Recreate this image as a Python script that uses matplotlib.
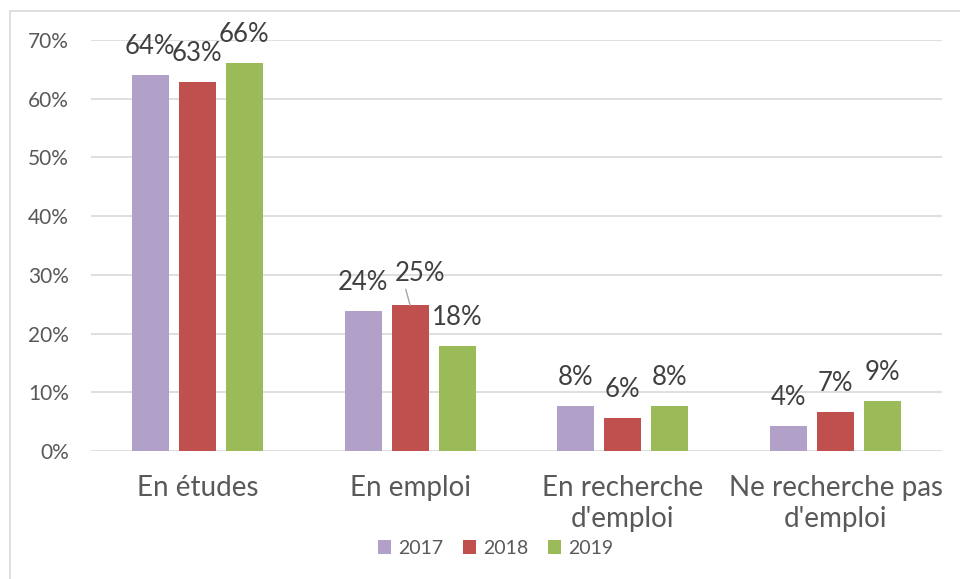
import matplotlib.pyplot as plt
import matplotlib.patches as mpatches
import numpy as np

plt.rcParams['font.family'] = ['Lato', 'DejaVu Sans']

# Categories and values (share of respondents)
categories = ["En études", "En emploi", "En recherche\nd'emploi", "Ne recherche pas\nd'emploi"]
years = ["2017", "2018", "2019"]
vals_2017 = [0.640, 0.239, 0.076, 0.043]
vals_2018 = [0.628, 0.248, 0.057, 0.067]
vals_2019 = [0.660, 0.178, 0.076, 0.085]
labels_2017 = ["64%", "24%", "8%", "4%"]
labels_2018 = ["63%", "25%", "6%", "7%"]
labels_2019 = ["66%", "18%", "8%", "9%"]
colors = ["#b1a0c7", "#c0504d", "#9bbb59"]

fig = plt.figure(figsize=(9.6, 5.79), dpi=100)
ax = fig.add_axes([91/960, 1 - 451/579, (942 - 91)/960, (451 - 40)/579])

# outer chart border
fig.patches.append(mpatches.Rectangle((10/960, -0.05), 1.0, 1 - 11/579 + 0.05,
                                      transform=fig.transFigure, fill=False,
                                      edgecolor="#d9d9d9", linewidth=1.2))

x = np.arange(len(categories))
step = 47 / 212.75
width = 37 / 212.75

series = [vals_2017, vals_2018, vals_2019]
texts = [labels_2017, labels_2018, labels_2019]
for k, (vals, labs) in enumerate(zip(series, texts)):
    xs = x + (k - 1) * step
    ax.bar(xs, vals, width, color=colors[k], label=years[k], zorder=3)
    for i, (xi, v, lab) in enumerate(zip(xs, vals, labs)):
        if k == 1 and i == 1:
            # label moved aside with a leader line
            ax.annotate(lab, xy=(xi, v), xytext=(10, 24), textcoords='offset pixels',
                        ha='center', va='baseline', fontsize=18.5, color="#404040",
                        arrowprops=dict(arrowstyle='-', color="#a6a6a6", lw=1,
                                        shrinkA=0, shrinkB=0,
                                        relpos=(0.2, 0.0)))
        else:
            ax.annotate(lab, xy=(xi, v), xytext=(0, 21), textcoords='offset pixels',
                        ha='center', va='baseline', fontsize=18.5, color="#404040")

ax.set_xlim(-0.5, 3.5)
ax.set_ylim(0, 0.7)
ax.set_yticks(np.arange(0, 0.71, 0.1))
ax.set_yticklabels([f"{int(round(t*100))}%" for t in np.arange(0, 0.71, 0.1)])
ax.set_xticks(x)
ax.set_xticklabels(categories, fontsize=20, color="#595959", linespacing=1.25)
ax.tick_params(axis='y', labelsize=15, labelcolor="#595959", length=0, pad=16)
ax.tick_params(axis='x', length=0, pad=17)
ax.yaxis.grid(True, color="#d9d9d9", linewidth=1.2, zorder=0)
for s in ["top", "right", "left", "bottom"]:
    ax.spines[s].set_visible(False)

fig.legend(loc='center', bbox_to_anchor=(0.516, 1 - 548/579), ncol=3, frameon=False,
           fontsize=14, handlelength=0.7, handleheight=0.7, handletextpad=0.35,
           columnspacing=1.0, labelcolor="#595959")

fig.savefig("out.png", dpi=100)
